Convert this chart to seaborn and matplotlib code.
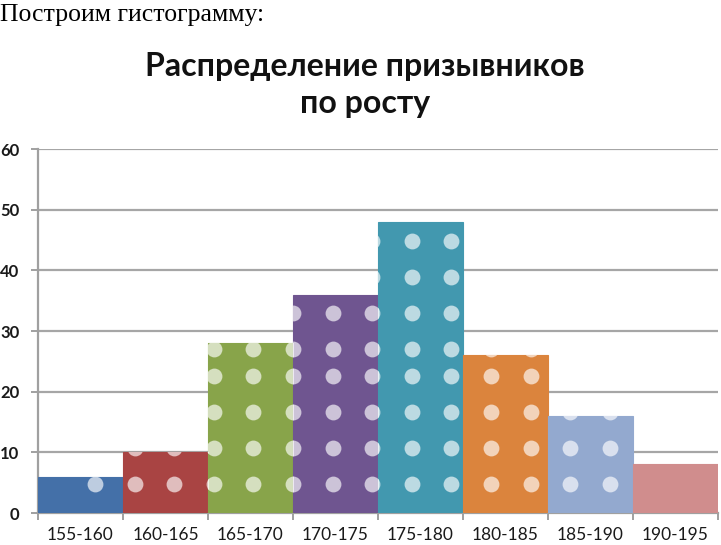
import matplotlib
matplotlib.use("Agg")
import matplotlib.pyplot as plt
import seaborn as sns
import numpy as np
import pandas as pd

# ---- data ----
categories = ["155-160", "160-165", "165-170", "170-175", "175-180", "180-185", "185-190", "190-195"]
counts = [6, 10, 28, 36, 48, 26, 16, 8]
bar_colors = ["#4470A8", "#A94443", "#88A44A", "#6F5590", "#4298AF", "#DB843D", "#93A9CF", "#D08D8D"]
y_ticks = [0, 10, 20, 30, 40, 50, 60]
title_text = "Распределение призывников\nпо росту"
heading_text = "Построим гистограмму:"

# decorative dot pattern (fill texture), in axis units
dot_cols = [0.17 + 0.466 * k for k in range(14)]
dot_rows = [4.7, 10.7, 16.7, 22.6, 27.1, 33.0, 38.9, 44.9]
dotted_bars = [True, True, True, True, True, True, True, False]

sns.set_theme(style="white")
plt.rcParams["font.family"] = ["Lato", "DejaVu Sans"]

fig = plt.figure(figsize=(7.21, 5.45), dpi=100)
ax = fig.add_axes([38 / 721, 32 / 545, 680 / 721, 364 / 545])

df = pd.DataFrame({"cat": categories, "n": counts})
sns.barplot(data=df, x="cat", y="n", hue="cat", palette=bar_colors, width=1.0,
            saturation=1, legend=False, ax=ax, zorder=3)

for p, c in zip(ax.patches, bar_colors):
    p.set_edgecolor(c)
    p.set_linewidth(0.8)

# dot texture clipped to each bar
gx, gy = np.meshgrid(dot_cols, dot_rows)
for p, dotted in zip(ax.patches, dotted_bars):
    if not dotted:
        continue
    sc = ax.scatter(gx.ravel(), gy.ravel(), s=130, color="white", alpha=0.65,
                    linewidths=0, zorder=4)
    sc.set_clip_path(p)

ax.set_xlim(-0.5, len(categories) - 0.5)
ax.set_ylim(0, 60)
ax.set_yticks(y_ticks)
ax.yaxis.grid(True, color="#A6A6A6", linewidth=1.6, zorder=0)
ax.set_axisbelow(True)
ax.set_xlabel("")
ax.set_ylabel("")

for s in ["top", "right"]:
    ax.spines[s].set_visible(False)
for s in ["left", "bottom"]:
    ax.spines[s].set_color("#A0A0A0")
    ax.spines[s].set_linewidth(1.6)

ax.set_xticks(np.append(np.arange(len(categories)) - 0.5, len(categories) - 0.5))
ax.set_xticklabels([""] * (len(categories) + 1))
ax.set_xticks(np.arange(len(categories)), minor=True)
ax.set_xticklabels(categories, minor=True)
ax.tick_params(axis="x", which="major", length=5, width=1.4, color="#A0A0A0", bottom=True, direction="out")
ax.tick_params(axis="x", which="minor", length=0, labelsize=12.5, pad=10, labelcolor="#1a1a1a")
ax.tick_params(axis="y", length=5, width=1.4, color="#A0A0A0", left=True, direction="out",
               labelsize=12, pad=8.5, labelcolor="#1a1a1a")
for lbl in ax.get_yticklabels():
    lbl.set_fontweight("bold")

fig.text(365 / 721, 1 - 85 / 545, title_text, ha="center", va="center",
         fontsize=23, fontweight="bold", linespacing=1.35, color="#111111")
fig.text(0.0, 1 - 15 / 545, heading_text, ha="left", va="center",
         fontsize=18.5, family=["Liberation Serif", "DejaVu Serif"], color="black")

fig.savefig("out.png", dpi=100)
